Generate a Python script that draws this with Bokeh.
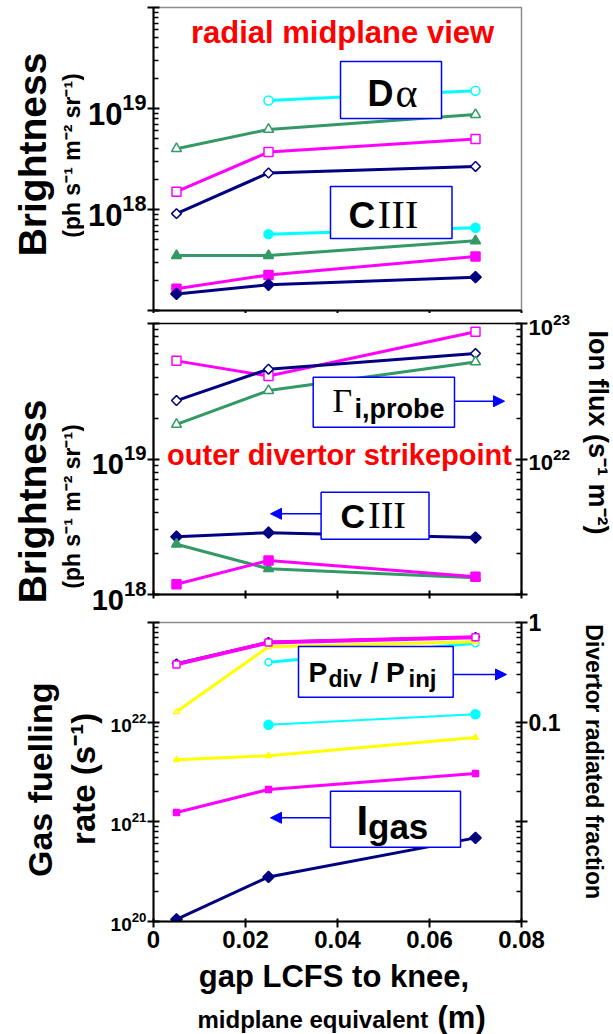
import math
from bokeh.plotting import figure
from bokeh.models import (Range1d, LogScale, LogAxis, FixedTicker, CustomJSTickFormatter,
                          Label, BoxAnnotation, Arrow, NormalHead)
from bokeh.layouts import column, row
from bokeh.embed import file_html
from bokeh.resources import INLINE

nan = float("nan")

# ---------------- data ----------------
gap = [0.005, 0.025, 0.07]          # gap LCFS to knee, midplane equivalent (m)
x_ticks = [0.0, 0.02, 0.04, 0.06, 0.08]

# panel 1: radial midplane view, brightness (ph s-1 m-2 sr-1)
mid_dalpha_navy = [9.1e17, 2.3e18, 2.67e18]
mid_dalpha_magenta = [1.5e18, 3.7e18, 5.0e18]
mid_dalpha_green = [4.0e18, 6.2e18, 8.7e18]
mid_dalpha_cyan = [nan, 1.2e19, 1.5e19]
mid_ciii_navy = [1.46e17, 1.8e17, 2.14e17]
mid_ciii_magenta = [1.64e17, 2.25e17, 3.43e17]
mid_ciii_green = [3.5e17, 3.5e17, 4.9e17]
mid_ciii_cyan = [nan, 5.7e17, 6.6e17]

# panel 2: outer divertor strikepoint
div_ciii_navy = [2.67e18, 2.86e18, 2.63e18]
div_ciii_green = [2.35e18, 1.55e18, 1.33e18]
div_ciii_magenta = [1.19e18, 1.78e18, 1.35e18]
ionflux_navy = [2.7e22, 4.6e22, 6.0e22]        # s-1 m-2
ionflux_magenta = [5.3e22, 4.1e22, 8.7e22]
ionflux_green = [1.8e22, 3.2e22, 5.2e22]

# panel 3: gas fuelling rate (s-1) and divertor radiated fraction
gas_navy = [1.05e20, 2.8e20, 6.9e20]
frac_navy_open = [0.39, 0.64, 0.72]
frac_magenta_open = [0.38, 0.63, 0.71]
frac_yellow_open = [0.127, 0.57, 0.64]
frac_cyan_open = [nan, 0.40, 0.62]
frac_cyan_fill = [nan, 0.094, 0.12]
frac_yellow_fill = [0.042, 0.046, 0.070]
frac_magenta_fill = [0.0124, 0.0211, 0.0306]

# ---------------- style ----------------
FONT = "Liberation Sans"
SERIF = "Liberation Serif"
NAVY, MAG, GREEN, CYAN, YEL = "#000080", "#FF00FF", "#339966", "#00FFFF", "#FFFF00"
BLUE, RED, GRAY = "#0000FF", "#FF0000", "#8C8C8C"
K = 0.28   # baseline correction (fraction of font size)


def minors(e0, e1):
    return [m * 10.0 ** e for e in range(e0, e1) for m in range(2, 10)]


def make_fig(height, ylo, yhi, left, top, bottom, outline):
    p = figure(width=left + 368 + 54, height=height, x_range=Range1d(0, 0.08),
               y_range=Range1d(ylo, yhi), y_axis_type="log", output_backend="svg",
               toolbar_location=None, title=None, min_border_left=left,
               min_border_right=54, min_border_top=top, min_border_bottom=bottom,
               background_fill_color="white", border_fill_color="white")
    p.grid.visible = False
    p.outline_line_color = outline
    p.outline_line_width = 1.5
    return p


def text_fig(x0, x1, y0, y1):
    # blank canvas whose data coordinates equal page pixels
    f = figure(width=int(x1 - x0), height=int(y1 - y0), x_range=Range1d(x0, x1),
               y_range=Range1d(y1, y0), output_backend="svg", toolbar_location=None,
               title=None, min_border=0, x_axis_location=None, y_axis_location=None,
               outline_line_color=None, background_fill_color="white",
               border_fill_color="white")
    f.grid.visible = False
    return f


def style_axis(ax, size, t_in=6, t_out=6, m_in=5, m_out=0):
    ax.axis_line_width = 2
    ax.axis_line_color = "black"
    ax.major_tick_line_width = 2
    ax.minor_tick_line_width = 1.5
    ax.major_tick_in = t_in
    ax.major_tick_out = t_out
    ax.minor_tick_in = m_in
    ax.minor_tick_out = m_out
    ax.major_label_text_font = FONT
    ax.major_label_text_font_style = "bold"
    ax.major_label_text_font_size = size
    ax.major_label_text_color = "black"
    ax.major_label_standoff = 1


def x_axis(p, labelled, t_in, t_out):
    ax = p.xaxis[0]
    style_axis(ax, "24px", t_in, t_out)
    ax.ticker = FixedTicker(ticks=x_ticks, minor_ticks=[])
    if labelled:
        ax.formatter = CustomJSTickFormatter(code="return tick == 0 ? '0' : tick.toFixed(2);")
        ax.major_label_standoff = 3
    else:
        ax.formatter = CustomJSTickFormatter(code="return '';")
        ax.major_label_standoff = 0


def series(p, y, color, marker, filled, size=9, lw=3, rname="default", angle=0.0):
    p.line(gap, y, line_color=color, line_width=lw, y_range_name=rname)
    p.scatter(gap, y, marker=marker, size=size, angle=angle, line_color=color,
              line_width=1.5, fill_color=color if filled else "white", y_range_name=rname)


def lab(p, x, y, text, size, color="black", font=FONT, style="bold", angle=0.0,
        align="left", baseline="alphabetic", units="screen"):
    if baseline == "alphabetic":
        y = y + K * size if units == "screen" else y - K * size
    p.add_layout(Label(x=x, y=y, x_units=units, y_units=units, text=text,
                       text_font=font, text_font_size=f"{size}px", text_font_style=style,
                       text_color=color, angle=angle, text_align=align,
                       text_baseline=baseline))


def box(p, l, r, b, t):
    p.add_layout(BoxAnnotation(left=l, right=r, bottom=b, top=t, left_units="screen",
                               right_units="screen", bottom_units="screen",
                               top_units="screen", fill_color="white", fill_alpha=1.0,
                               line_color=BLUE, line_width=1.5, line_alpha=1.0))


def arrow(p, x0, y0, x1, y1):
    p.add_layout(Arrow(end=NormalHead(size=11, fill_color=BLUE, line_color=BLUE, line_width=1),
                       x_start=x0, y_start=y0, x_end=x1, y_end=y1,
                       start_units="screen", end_units="screen",
                       line_color=BLUE, line_width=1.5))


DIAM = math.pi / 4
UP, DOWN = math.pi / 2, -math.pi / 2
SUB = "(ph s\u207b\u00b9 m\u207b\u00b2 sr\u207b\u00b9)"

# ---------------- panel 1 ----------------
p1 = make_fig(313, 1e17, 1e20, 69, 7, 3, GRAY)
ax = p1.yaxis[0]
style_axis(ax, "31px")
ax.ticker = FixedTicker(ticks=[1e17, 1e18, 1e19, 1e20], minor_ticks=minors(17, 20))
ax.major_label_overrides = {1e17: "", 1e20: ""}
x_axis(p1, False, 0, 3)

series(p1, mid_dalpha_cyan, CYAN, "circle", False, 9)
series(p1, mid_dalpha_green, GREEN, "triangle", False, 10)
series(p1, mid_dalpha_magenta, MAG, "square", False, 9)
series(p1, mid_dalpha_navy, NAVY, "square", False, 7, angle=DIAM)
series(p1, mid_ciii_cyan, CYAN, "circle", True, 9)
series(p1, mid_ciii_green, GREEN, "triangle", True, 10)
series(p1, mid_ciii_magenta, MAG, "square", True, 9)
series(p1, mid_ciii_navy, NAVY, "square", True, 8, angle=DIAM)

lab(p1, 189, 269, "radial midplane view", 31, color=RED, align="center")
box(p1, 187, 288, 192, 249)
lab(p1, 214, 207, "D", 36)
lab(p1, 242, 206, "\u03b1", 42, font=SERIF, style="normal")
box(p1, 177, 298.5, 72, 124)
lab(p1, 195, 85, "C", 37)
lab(p1, 224, 85, "III", 41, font=SERIF, style="normal")

# ---------------- panel 2 ----------------
p2 = make_fig(298, 1e18, 1e20, 69, 10, 17, "black")
ax = p2.yaxis[0]
style_axis(ax, "29px")
ax.ticker = FixedTicker(ticks=[1e18, 1e19, 1e20], minor_ticks=minors(18, 20))
ax.major_label_overrides = {1e20: ""}
x_axis(p2, False, 4, 4)
p2.extra_y_ranges = {"flux": Range1d(1e21, 1e23)}
p2.extra_y_scales = {"flux": LogScale()}
rax = LogAxis(y_range_name="flux")
style_axis(rax, "22px")
rax.ticker = FixedTicker(ticks=[1e21, 1e22, 1e23], minor_ticks=minors(21, 23))
rax.major_label_overrides = {1e21: ""}
p2.add_layout(rax, "right")

series(p2, ionflux_magenta, MAG, "square", False, 9, rname="flux")
series(p2, ionflux_navy, NAVY, "square", False, 7, rname="flux", angle=DIAM)
series(p2, ionflux_green, GREEN, "triangle", False, 10, rname="flux")
series(p2, div_ciii_navy, NAVY, "square", True, 8, angle=DIAM)
series(p2, div_ciii_green, GREEN, "triangle", True, 10)
series(p2, div_ciii_magenta, MAG, "square", True, 9)

lab(p2, 186, 131, "outer divertor strikepoint", 29, color=RED, align="center")
box(p2, 159.7, 301, 167.3, 217.3)
arrow(p2, 301, 193.3, 351, 193.3)
lab(p2, 179, 184, "\u0393", 34, font=SERIF, style="normal")
lab(p2, 201, 178, "i,probe", 27)
box(p2, 167.6, 275.5, 55.3, 102.3)
arrow(p2, 167.6, 80.7, 117, 80.7)
lab(p2, 187, 69, "C", 34)
lab(p2, 214.5, 69, "III", 38, font=SERIF, style="normal")

# ---------------- panel 3 ----------------
p3 = make_fig(348, 1e20, 1e23, 49, 11, 38, GRAY)
ax = p3.yaxis[0]
style_axis(ax, "19px")
ax.ticker = FixedTicker(ticks=[1e20, 1e21, 1e22, 1e23], minor_ticks=minors(20, 23))
ax.major_label_overrides = {1e23: ""}
x_axis(p3, True, 3, 6)
p3.extra_y_ranges = {"frac": Range1d(0.001, 1.0)}
p3.extra_y_scales = {"frac": LogScale()}
rax = LogAxis(y_range_name="frac")
style_axis(rax, "23px")
rax.ticker = FixedTicker(ticks=[0.001, 0.01, 0.1, 1.0], minor_ticks=minors(-3, 0))
rax.formatter = CustomJSTickFormatter(code="return tick >= 0.09 ? String(tick) : '';")
p3.add_layout(rax, "right")

series(p3, frac_magenta_fill, MAG, "square", True, 6, 3, rname="frac")
series(p3, frac_yellow_fill, YEL, "triangle", True, 6, 3, rname="frac")
series(p3, frac_cyan_fill, CYAN, "circle", True, 9, 2, rname="frac")
series(p3, frac_cyan_open, CYAN, "circle", False, 7, 3, rname="frac")
series(p3, frac_yellow_open, YEL, "triangle", False, 6, 3, rname="frac")
series(p3, frac_navy_open, NAVY, "square", False, 6, 2, rname="frac", angle=DIAM)
series(p3, frac_magenta_open, MAG, "square", False, 7, 4, rname="frac")
series(p3, gas_navy, NAVY, "square", True, 8, 3, angle=DIAM)

box(p3, 145, 299.7, 224.3, 275)
arrow(p3, 299.7, 247, 353, 247)
lab(p3, 155, 241, "P", 28)
lab(p3, 175, 236, "div", 23)
lab(p3, 217, 241, "/ P", 28)
lab(p3, 255, 236, "inj", 24)
box(p3, 177, 307, 74.3, 130.3)
arrow(p3, 177, 103.7, 117, 103.7)
lab(p3, 203, 89, "I", 42)
lab(p3, 214.5, 85, "gas", 35)

# ---------------- axis titles (blank canvases in page pixels) ----------------
L12 = text_fig(0, 84, 0, 611)
lab(L12, 32, 154, "Brightness", 39, angle=UP, align="center", baseline="middle", units="data")
lab(L12, 71, 155, SUB, 23, angle=UP, align="center", baseline="middle", units="data")
lab(L12, 32, 501, "Brightness", 39, angle=UP, align="center", baseline="middle", units="data")
lab(L12, 71, 506, SUB, 23, angle=UP, align="center", baseline="middle", units="data")

R12 = text_fig(575, 613, 0, 611)
lab(R12, 597, 432, "Ion flux (s\u207b\u00b9 m\u207b\u00b2)", 27, angle=DOWN, align="center",
    baseline="middle", units="data")

L3 = text_fig(0, 104, 611, 959)
lab(L3, 39, 794, "Gas fuelling", 34, angle=UP, align="center", baseline="middle", units="data")
lab(L3, 83, 793, "rate (s\u207b\u00b9)", 33, angle=UP, align="center", baseline="middle",
    units="data")

R3 = text_fig(575, 613, 611, 959)
lab(R3, 593, 773, "Divertor radiated fraction", 23, angle=DOWN, align="center",
    baseline="middle", units="data")

B = text_fig(0, 613, 959, 1034)
lab(B, 333.5, 985, "gap LCFS to knee,", 31, align="center", units="data")
lab(B, 197, 1026, "midplane equivalent", 24, units="data")
lab(B, 437, 1026, "(m)", 31, units="data")

layout = column(row(L12, column(p1, p2, spacing=0), R12, spacing=0),
                row(L3, p3, R3, spacing=0), B, spacing=0)
open("out.html", "w").write(file_html(layout, INLINE))
